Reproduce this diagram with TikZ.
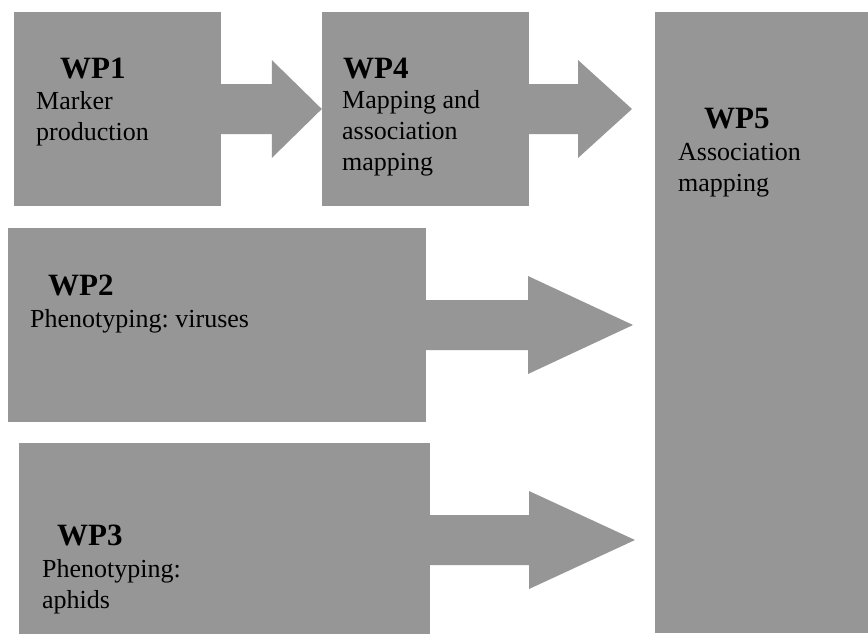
\documentclass[tikz,border=0pt]{standalone}
\usepackage{fontspec}
\setmainfont{Liberation Serif}
\frenchspacing
\usetikzlibrary{calc}
\definecolor{wpgray}{RGB}{150,150,150}

% block arrow: start, tip, head length
\newcommand{\blockarr}[3]{%
  \fill[arr] ($(#1)+(0,-25)$) -- ($(#2)+(-#3,-25)$) -- ($(#2)+(-#3,-49)$) -- (#2)
    -- ($(#2)+(-#3,49)$) -- ($(#2)+(-#3,25)$) -- ($(#1)+(0,25)$) -- cycle;}

\begin{document}
\begin{tikzpicture}[x=1pt,y=-1pt,
    box/.style={fill=wpgray,draw=none,rectangle,inner sep=0pt},
    arr/.style={fill=wpgray},
    title/.style={anchor=base west,inner sep=0pt,font=\fontsize{31}{36}\selectfont\bfseries},
    body/.style={anchor=base west,inner sep=0pt,align=left,font=\fontsize{26}{31}\selectfont}]

      \useasboundingbox[fill=white] (0,0) rectangle (868,633);

      \node[box,minimum width=207pt,minimum height=194pt] (wp1) at (117.5,109) {};
      \node[box,minimum width=207pt,minimum height=194pt] (wp4) at (425.5,109) {};
      \node[box,minimum width=213pt,minimum height=621pt] (wp5) at (761.5,322.5) {};
      \node[box,minimum width=418pt,minimum height=194pt] (wp2) at (217,325) {};
      \node[box,minimum width=411pt,minimum height=194pt] (wp3) at (224.5,540) {};

      \coordinate (t2) at (632,109);
      \coordinate (t3) at (633,325);
      \coordinate (t4) at (635,540);

      \blockarr{wp1.east}{wp4.west}{50}
      \blockarr{wp4.east}{t2}{54}
      \blockarr{wp2.east}{t3}{105}
      \blockarr{wp3.east}{t4}{106}

      % base of a multi-line text is its last line
      \node[title] (wp1a) at (60,78) {WP1};
      \node[body] (wp1b) at (36,140) {Marker\\production};
      \node[title] (wp4a) at (343,78) {WP4};
      \node[body] (wp4b) at (342,170) {Mapping and\\association\\mapping};
      \node[title] (wp5a) at (704,128) {WP5};
      \node[body] (wp5b) at (678,191) {Association\\mapping};
      \node[title] (wp2a) at (48,295) {WP2};
      \node[body] (wp2b) at (30,327) {Phenotyping: viruses};
      \node[title] (wp3a) at (57,545) {WP3};
      \node[body] (wp3b) at (42,608) {Phenotyping:\\aphids};

    \end{tikzpicture}
\end{document}
